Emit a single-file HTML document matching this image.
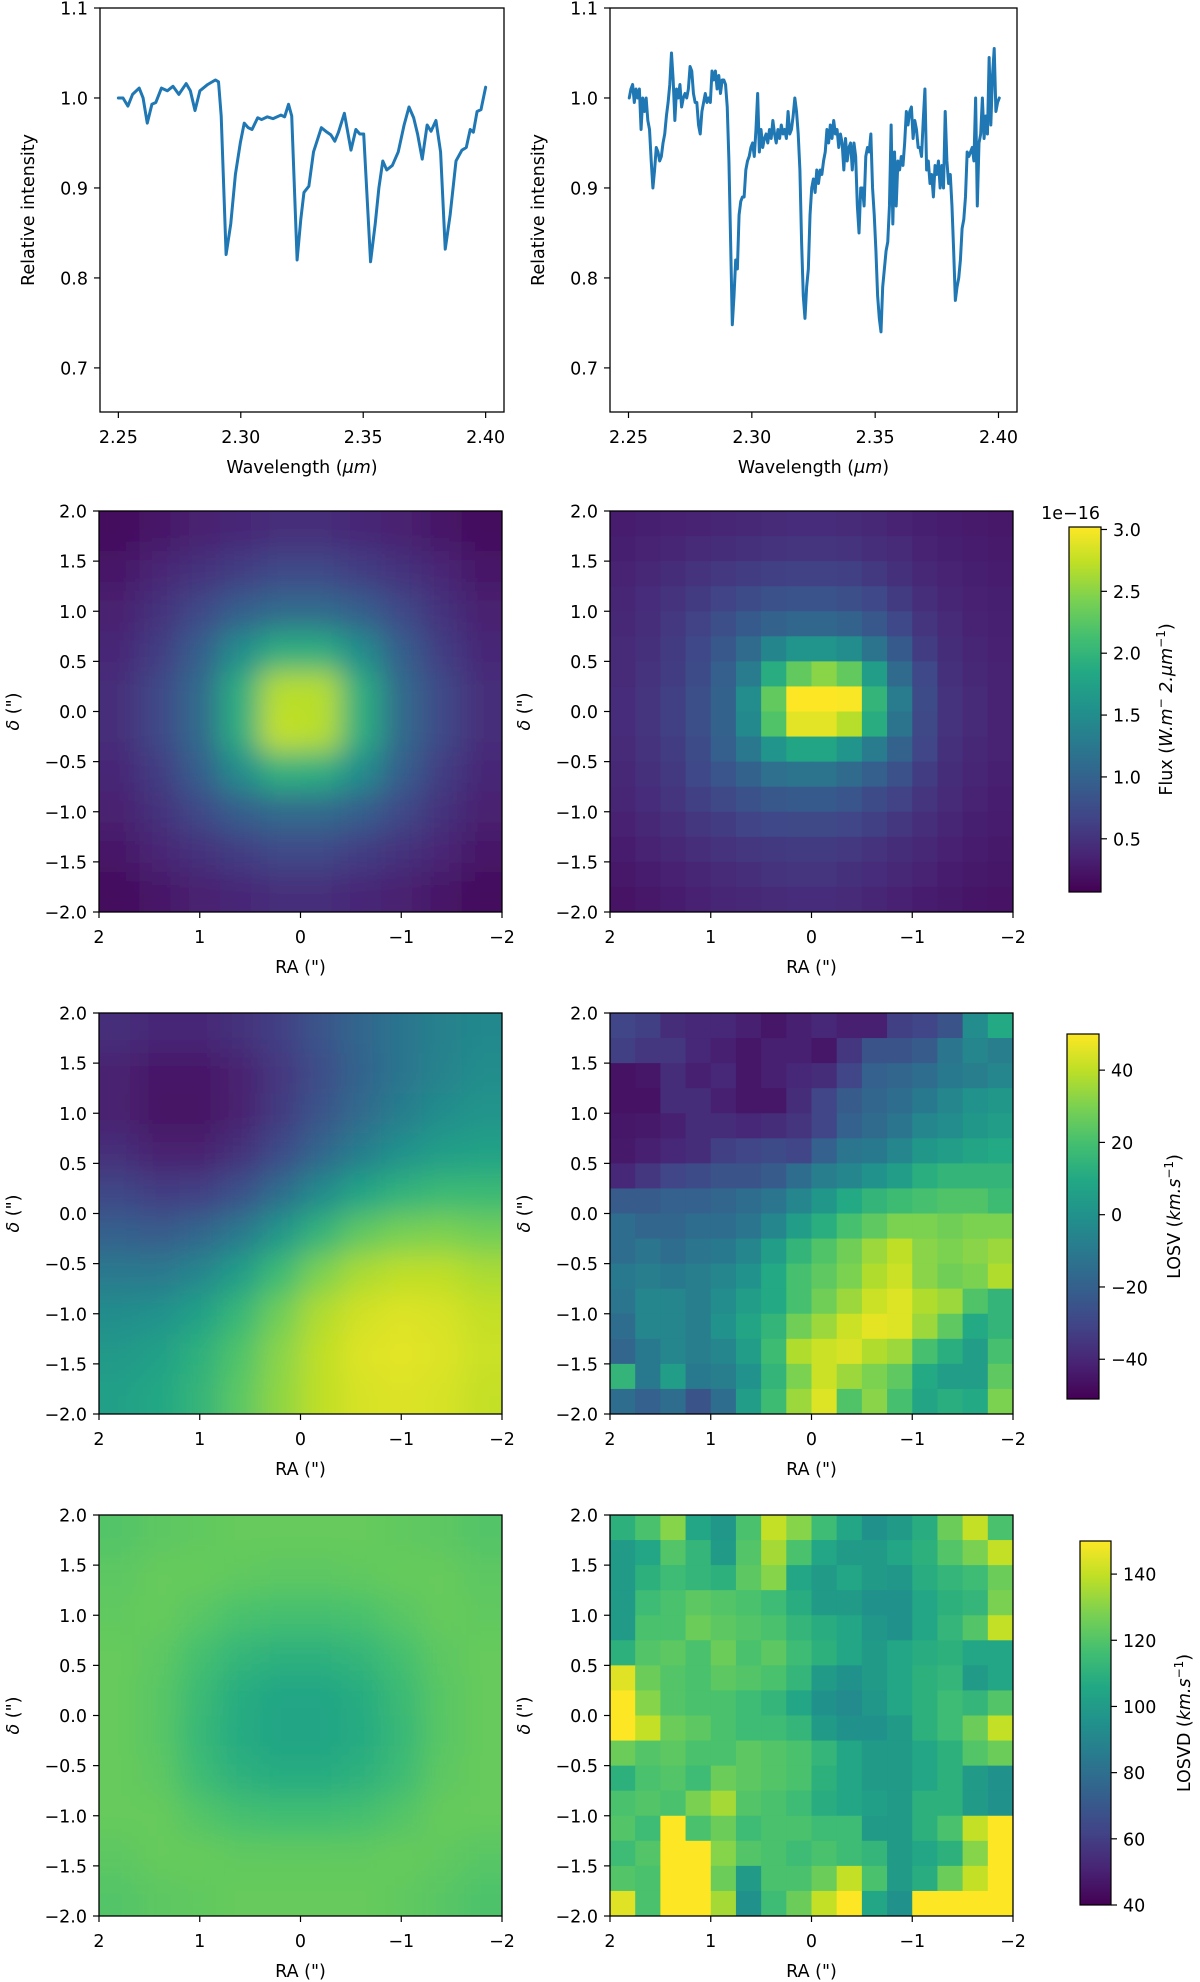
<!DOCTYPE html>
<html><head><meta charset="utf-8"><style>
html,body{margin:0;padding:0;background:#fff;}
svg{display:block;font-family:"DejaVu Sans","Liberation Sans",sans-serif;}
</style></head><body>
<svg id="fig" width="1200" height="1982" viewBox="0 0 1200 1982" xmlns="http://www.w3.org/2000/svg">
<defs>
<linearGradient id="viridis" x1="0" y1="1" x2="0" y2="0">
<stop offset="0" stop-color="#440154"/><stop offset="0.1" stop-color="#482475"/><stop offset="0.2" stop-color="#414487"/><stop offset="0.3" stop-color="#355f8d"/><stop offset="0.4" stop-color="#2a788e"/><stop offset="0.5" stop-color="#21918c"/><stop offset="0.6" stop-color="#22a884"/><stop offset="0.7" stop-color="#44bf70"/><stop offset="0.8" stop-color="#7ad151"/><stop offset="0.9" stop-color="#bddf26"/><stop offset="1" stop-color="#fde725"/>
</linearGradient>
<filter id="smooth" x="0" y="0" width="1" height="1"><feGaussianBlur stdDeviation="14"/></filter>
</defs>
</svg>
<script>
// ---------- DATA ----------
const specWl1 = [2.2500,2.2519,2.2539,2.2558,2.2585,2.2601,2.2618,2.2637,2.2653,2.2676,2.2700,2.2723,2.2747,2.2777,2.2794,2.2813,2.2833,2.2865,2.2896,2.2909,2.2920,2.2940,2.2959,2.2978,2.2998,2.3014,2.3030,2.3046,2.3069,2.3085,2.3108,2.3132,2.3164,2.3179,2.3195,2.3208,2.3230,2.3245,2.3258,2.3278,2.3297,2.3329,2.3352,2.3368,2.3384,2.3399,2.3423,2.3450,2.3470,2.3486,2.3502,2.3530,2.3549,2.3564,2.3580,2.3596,2.3619,2.3643,2.3667,2.3687,2.3706,2.3722,2.3741,2.3761,2.3777,2.3797,2.3816,2.3835,2.3855,2.3879,2.3903,2.3921,2.3937,2.3950,2.3965,2.3981,2.4000];
const specInt1 = [1.0,1.0,0.991,1.004,1.011,1.0,0.972,0.993,0.995,1.011,1.008,1.013,1.004,1.016,1.008,0.986,1.008,1.015,1.02,1.018,0.98,0.826,0.86,0.915,0.95,0.972,0.967,0.965,0.978,0.976,0.979,0.977,0.981,0.979,0.993,0.98,0.82,0.865,0.895,0.902,0.94,0.967,0.962,0.959,0.952,0.962,0.983,0.942,0.965,0.96,0.96,0.818,0.86,0.9,0.93,0.92,0.925,0.94,0.97,0.99,0.978,0.96,0.932,0.97,0.963,0.975,0.94,0.832,0.87,0.93,0.942,0.945,0.965,0.962,0.985,0.987,1.012];
const specWl2Start = 2.2503, specWl2Step = 0.000685;
const specInt2 = [1.0,1.01,1.015,0.995,1.01,1.0,1.01,0.965,1.0,0.985,1.0,0.975,0.965,0.93,0.9,0.92,0.945,0.94,0.93,0.935,0.95,0.96,0.98,0.995,1.015,1.05,1.02,0.975,1.01,1.0,1.015,0.99,1.0,1.005,1.0,1.01,1.035,1.03,1.005,0.995,0.995,0.97,0.96,0.985,0.995,1.005,0.995,1.0,0.995,1.03,1.02,1.03,1.01,1.025,1.005,1.02,1.02,1.015,0.99,0.93,0.84,0.748,0.78,0.82,0.81,0.87,0.885,0.89,0.89,0.92,0.93,0.935,0.945,0.95,0.935,0.965,1.005,0.94,0.965,0.945,0.955,0.96,0.95,0.965,0.955,0.975,0.96,0.95,0.965,0.955,0.97,0.96,0.965,0.955,0.985,0.96,0.965,0.98,1.0,0.985,0.96,0.92,0.84,0.78,0.755,0.79,0.81,0.87,0.9,0.91,0.895,0.92,0.905,0.92,0.915,0.93,0.94,0.965,0.95,0.97,0.955,0.975,0.96,0.965,0.945,0.96,0.95,0.92,0.955,0.93,0.945,0.95,0.92,0.95,0.935,0.88,0.85,0.9,0.9,0.88,0.935,0.945,0.94,0.96,0.9,0.87,0.83,0.78,0.755,0.74,0.79,0.81,0.83,0.84,0.88,0.97,0.86,0.94,0.88,0.93,0.92,0.935,0.925,0.95,0.985,0.97,0.985,0.99,0.955,0.975,0.965,0.945,0.945,0.935,0.975,1.01,0.92,0.93,0.905,0.915,0.89,0.925,0.915,0.93,0.9,0.925,0.9,0.985,0.93,0.905,0.915,0.88,0.83,0.775,0.79,0.8,0.82,0.855,0.865,0.89,0.94,0.935,0.94,0.945,0.93,1.0,0.88,0.95,0.96,1.0,0.955,0.98,0.96,1.045,0.97,1.025,1.055,0.985,0.995,1.0];
const specXTicks = [2.25,2.30,2.35,2.40];
const specXTickLabels = ["2.25","2.30","2.35","2.40"];
const specYTicks = [0.7,0.8,0.9,1.0,1.1];
const specYTickLabels = ["0.7","0.8","0.9","1.0","1.1"];

const mapXTicks = [2,1,0,-1,-2];
const mapXTickLabels = ["2","1","0","\u22121","\u22122"];
const mapYTicks = [2,1.5,1,0.5,0,-0.5,-1,-1.5,-2];
const mapYTickLabels = ["2.0","1.5","1.0","0.5","0.0","\u22120.5","\u22121.0","\u22121.5","\u22122.0"];

const fluxModel = [
[0.15,0.25,0.33,0.40,0.45,0.45,0.40,0.33,0.25,0.15],
[0.25,0.38,0.50,0.60,0.70,0.70,0.60,0.50,0.38,0.25],
[0.33,0.50,0.70,0.95,1.10,1.10,0.95,0.70,0.50,0.33],
[0.40,0.60,0.95,1.50,1.90,1.90,1.50,0.95,0.60,0.40],
[0.45,0.70,1.10,1.90,2.70,2.70,1.90,1.10,0.70,0.45],
[0.45,0.70,1.10,1.90,2.75,2.70,1.90,1.10,0.70,0.45],
[0.40,0.60,0.95,1.50,1.95,1.90,1.50,0.95,0.60,0.40],
[0.33,0.50,0.70,0.95,1.10,1.10,0.95,0.70,0.50,0.33],
[0.25,0.38,0.50,0.60,0.70,0.70,0.60,0.50,0.38,0.25],
[0.15,0.25,0.33,0.40,0.45,0.45,0.40,0.33,0.25,0.15]];
const fluxData = [
[.30,.32,.34,.36,.38,.40,.42,.44,.44,.42,.40,.36,.32,.30,.28,.26],
[.32,.35,.38,.42,.45,.48,.50,.52,.52,.50,.46,.42,.36,.32,.30,.28],
[.35,.40,.45,.50,.55,.60,.62,.64,.64,.62,.56,.48,.40,.35,.32,.30],
[.38,.44,.50,.58,.66,.74,.80,.82,.82,.78,.70,.58,.46,.38,.34,.32],
[.40,.46,.55,.65,.78,.90,1.0,1.05,1.05,1.0,.88,.70,.52,.42,.36,.33],
[.42,.48,.58,.70,.88,1.1,1.4,1.6,1.6,1.5,1.2,.90,.60,.45,.38,.34],
[.42,.50,.60,.75,.95,1.3,1.9,2.3,2.5,2.3,1.7,1.1,.70,.48,.40,.35],
[.44,.52,.62,.78,1.0,1.5,2.3,3.1,3.1,3.0,2.0,1.3,.75,.50,.42,.36],
[.44,.52,.62,.78,1.0,1.45,2.2,2.9,2.9,2.7,1.9,1.2,.72,.50,.42,.36],
[.42,.50,.60,.75,.95,1.25,1.6,1.8,1.8,1.6,1.3,1.0,.68,.48,.40,.35],
[.40,.48,.56,.70,.85,1.0,1.15,1.2,1.2,1.1,.95,.80,.60,.45,.38,.33],
[.38,.44,.52,.62,.72,.80,.88,.90,.90,.85,.75,.65,.52,.42,.35,.31],
[.34,.40,.46,.54,.60,.66,.70,.72,.72,.68,.62,.54,.46,.38,.32,.29],
[.30,.35,.40,.46,.50,.54,.56,.58,.58,.55,.50,.45,.40,.34,.30,.27],
[.26,.30,.34,.38,.42,.46,.50,.52,.52,.48,.44,.40,.35,.30,.27,.25],
[.22,.26,.30,.34,.38,.40,.42,.44,.44,.42,.38,.34,.30,.27,.24,.22]];
const losvModel = [
[-38,-40,-40,-37,-32,-25,-18,-12,-7,-4],
[-42,-45,-45,-42,-35,-27,-19,-12,-6,-2],
[-42,-46,-46,-42,-34,-25,-16,-8,-2,1],
[-38,-42,-42,-37,-28,-18,-8,0,5,7],
[-30,-33,-32,-26,-15,-3,8,14,17,17],
[-20,-22,-18,-10,2,15,25,29,30,28],
[-10,-10,-5,5,18,30,37,40,40,37],
[-2,0,6,16,28,38,43,45,44,41],
[3,6,13,22,32,40,45,46,45,42],
[6,9,15,24,33,40,44,45,44,41]];
const losvData = [
[-30,-32,-38,-40,-40,-42,-45,-42,-40,-42,-42,-32,-30,-25,-2,10],
[-32,-35,-35,-40,-42,-45,-42,-42,-45,-35,-25,-25,-22,-12,-5,-8],
[-46,-45,-38,-42,-40,-45,-42,-40,-38,-30,-20,-18,-15,-10,-8,-5],
[-46,-46,-38,-38,-42,-45,-45,-38,-30,-22,-18,-15,-10,-5,0,2],
[-45,-44,-42,-38,-38,-40,-38,-36,-30,-20,-16,-12,-5,-2,2,5],
[-44,-42,-40,-38,-32,-30,-28,-30,-20,-12,-10,-5,2,5,8,10],
[-40,-35,-30,-28,-25,-25,-22,-15,-8,-5,0,5,12,15,15,15],
[-22,-22,-20,-20,-18,-15,-12,-5,2,10,15,18,20,22,22,18],
[-15,-18,-18,-15,-15,-12,-5,5,12,20,25,30,30,28,30,30],
[-15,-12,-15,-12,-10,-5,5,15,22,28,35,40,32,30,32,35],
[-10,-8,-10,-8,-5,0,10,20,25,30,38,42,32,28,30,38],
[-12,-5,-5,-8,-2,5,10,20,28,35,42,45,38,35,22,15],
[-15,-5,-5,-8,0,8,15,28,35,42,46,45,35,25,10,15],
[-18,-10,-5,-8,-5,5,18,38,42,44,38,35,20,12,5,20],
[15,-10,5,-10,-8,0,15,30,42,35,30,25,10,5,5,25],
[-15,-20,-15,-25,-15,5,18,35,45,22,32,20,8,12,10,30]];
const losvdModel = [
[120,122,123,124,124,124,124,123,122,120],
[122,124,124,123,122,122,123,124,124,122],
[123,124,121,118,117,117,118,121,124,123],
[124,122,117,112,110,110,112,117,122,124],
[124,121,114,108,105,105,108,114,121,124],
[124,121,113,107,104,104,107,113,121,124],
[124,122,115,110,108,108,110,115,122,124],
[124,124,120,117,116,116,117,120,124,124],
[122,124,124,123,123,123,123,124,123,121],
[120,122,123,124,124,124,124,123,121,119]];
const losvdData = [
[110,118,130,105,98,118,140,130,115,105,95,100,108,125,140,118],
[100,105,120,112,100,120,135,118,105,100,100,105,110,120,128,140],
[100,110,115,112,110,122,130,105,100,105,100,98,108,112,115,125],
[100,115,118,122,120,118,115,108,100,100,95,95,105,110,112,128],
[100,118,118,125,122,120,118,112,108,105,98,95,105,112,120,140],
[110,120,122,118,125,118,122,115,110,105,100,105,108,110,105,105],
[145,125,120,118,122,120,118,112,100,95,100,105,110,112,100,105],
[150,130,120,118,118,115,112,105,95,92,98,105,110,115,112,120],
[150,140,125,122,118,115,115,112,100,95,95,100,110,115,125,140],
[125,120,122,118,118,122,120,118,112,105,100,100,105,110,120,125],
[110,118,120,115,125,122,120,118,110,105,100,100,105,110,100,95],
[118,120,118,128,135,120,118,115,108,105,102,100,110,110,100,95],
[120,115,150,118,125,115,118,118,115,115,100,100,110,118,140,150],
[115,120,150,150,130,120,118,115,118,115,112,100,105,110,130,150],
[120,118,150,150,125,100,118,118,125,140,118,100,108,125,140,150],
[145,118,150,150,135,95,115,125,140,150,105,95,150,150,150,150]];
const fluxCbTicks = [0.5,1.0,1.5,2.0,2.5,3.0];
const fluxCbLabels = ["0.5","1.0","1.5","2.0","2.5","3.0"];
const losvCbTicks = [-40,-20,0,20,40];
const losvCbLabels = ["\u221240","\u221220","0","20","40"];
const losvdCbTicks = [40,60,80,100,120,140];
const losvdCbLabels = ["40","60","80","100","120","140"];

// ---------- DRAWING ----------
const NS = "http://www.w3.org/2000/svg";
const svg = document.getElementById('fig');
const VIR = ["#440154","#482475","#414487","#355f8d","#2a788e","#21918c","#22a884","#44bf70","#7ad151","#bddf26","#fde725"];
function hex(c){return [parseInt(c.substr(1,2),16),parseInt(c.substr(3,2),16),parseInt(c.substr(5,2),16)];}
function viridis(t){t=Math.max(0,Math.min(1,t));const p=t*10,i=Math.min(9,Math.floor(p)),f=p-i;const a=hex(VIR[i]),b=hex(VIR[i+1]);return 'rgb('+a.map((v,k)=>Math.round(v+(b[k]-v)*f)).join(',')+')';}
function el(tag,attrs,parent){const e=document.createElementNS(NS,tag);for(const k in attrs)e.setAttribute(k,attrs[k]);(parent||svg).appendChild(e);return e;}
function txt(s,attrs,parent){const e=el('text',attrs,parent);e.textContent=s;return e;}
const FS=17.5;

function axesFrame(g,ax){
  const r=el('rect',{x:ax.x,y:ax.y,width:ax.w,height:ax.h,fill:'none',stroke:'#000','stroke-width':1.3},g);
  
  
}
function xTicks(g,ax,ticks,labels,sx){
  ticks.forEach((t,i)=>{
    const x=sx(t);
    const l=el('line',{x1:x,x2:x,y1:ax.y+ax.h,y2:ax.y+ax.h+6,stroke:'#000','stroke-width':1.2},g);
    
    
    const tx=txt(labels[i],{x:x,y:ax.y+ax.h+31,'text-anchor':'middle','font-size':FS},g);
    
    
  });
}
function yTicks(g,ax,ticks,labels,sy){
  ticks.forEach((t,i)=>{
    const y=sy(t);
    const l=el('line',{x1:ax.x-6,x2:ax.x,y1:y,y2:y,stroke:'#000','stroke-width':1.2},g);
    
    
    const tx=txt(labels[i],{x:ax.x-12,y:y+6.5,'text-anchor':'end','font-size':FS},g);
    
    
  });
}
function yLabel(g,x,y,content,name){
  const t=el('text',{transform:'translate('+x+','+y+') rotate(-90)','text-anchor':'middle','font-size':FS},g);
  t.innerHTML=content;
  
  
}
function xLabel(g,x,y,content){
  const t=el('text',{x:x,y:y,'text-anchor':'middle','font-size':FS},g);
  t.innerHTML=content;
  
  
}

function spectrum(name,ax,wl,vals){
  const g=el('g',{});
  
  
  const xmin=2.2425,xmax=2.4075,ymin=0.651,ymax=1.1;
  const sx=v=>ax.x+(v-xmin)/(xmax-xmin)*ax.w;
  const sy=v=>ax.y+(ymax-v)/(ymax-ymin)*ax.h;
  const d=vals.map((v,i)=>(i?'L':'M')+sx(wl[i]).toFixed(2)+','+sy(v).toFixed(2)).join('');
  const p=el('path',{d:d,fill:'none',stroke:'#1f77b4','stroke-width':3,'stroke-linejoin':'round','stroke-linecap':'round'},g);
  
  
  axesFrame(g,ax);
  xTicks(g,ax,specXTicks,specXTickLabels,sx);
  yTicks(g,ax,specYTicks,specYTickLabels,sy);
  xLabel(g,ax.x+ax.w/2,ax.y+ax.h+61,'Wavelength (<tspan font-style="italic">μm</tspan>)');
  yLabel(g,ax.x-66,ax.y+ax.h/2,'Relative intensity','y-axis-title');
}

function heatmap(name,ax,grid,vmin,vmax,smooth){
  const g=el('g',{});
  
  
  const ny=grid.length,nx=grid[0].length;
  const sx=v=>ax.x+(2-v)/4*ax.w;
  const sy=v=>ax.y+(2-v)/4*ax.h;
  const cid='clip-'+name;
  const cp=el('clipPath',{id:cid},g);
  el('rect',{x:ax.x,y:ax.y,width:ax.w,height:ax.h},cp);
  const outer=el('g',{'clip-path':'url(#'+cid+')'},g);
  const inner=el('g',smooth?{filter:'url(#smooth)'}:{},outer);
  const cw=ax.w/nx,ch=ax.h/ny,ext=smooth?40:0;
  for(let r=0;r<ny;r++)for(let c=0;c<nx;c++){
    let x=sx(2-4*c/nx),y=sy(2-4*r/ny),w=cw,h=ch;
    if(c===0){x-=ext;w+=ext;} if(c===nx-1)w+=ext;
    if(r===0){y-=ext;h+=ext;} if(r===ny-1)h+=ext;
    const cell=el('rect',{x:x.toFixed(2),y:y.toFixed(2),width:(w+0.6).toFixed(2),height:(h+0.6).toFixed(2),fill:viridis((grid[r][c]-vmin)/(vmax-vmin))},inner);
    
    
  }
  axesFrame(g,ax);
  xTicks(g,ax,mapXTicks,mapXTickLabels,sx);
  yTicks(g,ax,mapYTicks,mapYTickLabels,sy);
  xLabel(g,ax.x+ax.w/2,ax.y+ax.h+61,'RA (")');
  yLabel(g,ax.x-80,ax.y+ax.h/2,'<tspan font-style="italic">δ</tspan> (")','y-axis-title');
}

function colorbar(name,cb,vmin,vmax,ticks,labels,labelX,labelContent){
  const g=el('g',{});
  
  
  const r=el('rect',{x:cb.x,y:cb.y,width:cb.w,height:cb.h,fill:'url(#viridis)',stroke:'#000','stroke-width':1.2},g);
  
  
  const sy=v=>cb.y+(vmax-v)/(vmax-vmin)*cb.h;
  ticks.forEach((t,i)=>{
    const y=sy(t);
    const l=el('line',{x1:cb.x+cb.w,x2:cb.x+cb.w+6,y1:y,y2:y,stroke:'#000','stroke-width':1.2},g);
    
    
    const tx=txt(labels[i],{x:cb.x+cb.w+12,y:y+6.5,'font-size':FS},g);
    
    
  });
  yLabel(g,labelX,cb.y+cb.h/2,labelContent,'colorbar-title');
  return g;
}

const specAxL={x:100,y:8,w:404,h:404}, specAxR={x:610,y:8,w:407,h:404};
spectrum('spectrum-model',specAxL,specWl1,specInt1);
const specWl2=specInt2.map((v,i)=>specWl2Start+i*specWl2Step);
spectrum('spectrum-observed',specAxR,specWl2,specInt2);

const rowsY=[511,1013,1515];
const mapW=403,mapH=401;
heatmap('flux-map-model',{x:99,y:rowsY[0],w:mapW,h:mapH},fluxModel,0.07,3.02,true);
heatmap('flux-map-observed',{x:610,y:rowsY[0],w:mapW,h:mapH},fluxData,0.07,3.02,false);
heatmap('losv-map-model',{x:99,y:rowsY[1],w:mapW,h:mapH},losvModel,-51,50,true);
heatmap('losv-map-observed',{x:610,y:rowsY[1],w:mapW,h:mapH},losvData,-51,50,false);
heatmap('losvd-map-model',{x:99,y:rowsY[2],w:mapW,h:mapH},losvdModel,40,150,true);
heatmap('losvd-map-observed',{x:610,y:rowsY[2],w:mapW,h:mapH},losvdData,40,150,false);

const sup=s=>'<tspan baseline-shift="super" font-size="12">'+s+'</tspan>';
const fg=colorbar('flux-colorbar',{x:1069,y:527,w:32,h:365},0.07,3.02,fluxCbTicks,fluxCbLabels,1172,
 'Flux (<tspan font-style="italic">W.m</tspan>'+sup('\u2212')+' <tspan font-style="italic">2.μm</tspan>'+sup('\u22121')+')');
const off=txt('1e\u221216',{x:1100,y:519,'text-anchor':'end','font-size':FS},fg);


colorbar('losv-colorbar',{x:1067,y:1034,w:32,h:365},-51,50,losvCbTicks,losvCbLabels,1180,
 'LOSV (<tspan font-style="italic">km.s</tspan>'+sup('\u22121')+')');
colorbar('losvd-colorbar',{x:1080,y:1541,w:31,h:364},40,150,losvdCbTicks,losvdCbLabels,1190,
 'LOSVD (<tspan font-style="italic">km.s</tspan>'+sup('\u22121')+')');
</script>
</body></html>
